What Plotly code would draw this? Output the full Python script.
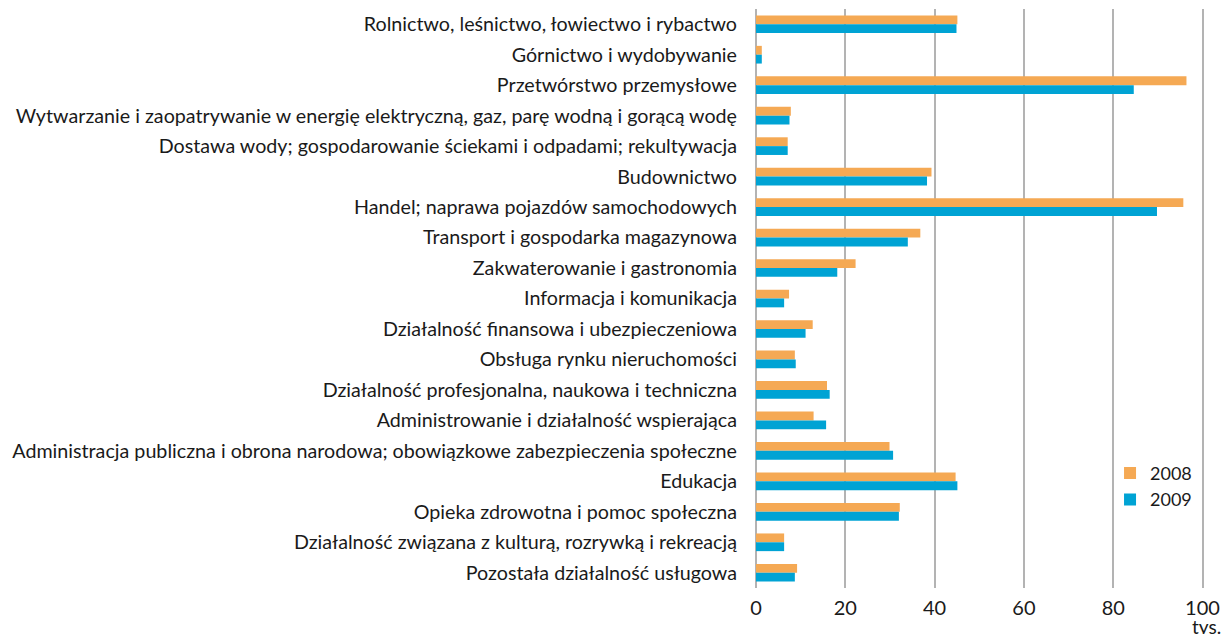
import plotly.graph_objects as go

categories = [
    "Rolnictwo, leśnictwo, łowiectwo i rybactwo",
    "Górnictwo i wydobywanie",
    "Przetwórstwo przemysłowe",
    "Wytwarzanie i zaopatrywanie w energię elektryczną, gaz, parę wodną i gorącą wodę",
    "Dostawa wody; gospodarowanie ściekami i odpadami; rekultywacja",
    "Budownictwo",
    "Handel; naprawa pojazdów samochodowych",
    "Transport i gospodarka magazynowa",
    "Zakwaterowanie i gastronomia",
    "Informacja i komunikacja",
    "Działalność finansowa i ubezpieczeniowa",
    "Obsługa rynku nieruchomości",
    "Działalność profesjonalna, naukowa i techniczna",
    "Administrowanie i działalność wspierająca",
    "Administracja publiczna i obrona narodowa; obowiązkowe zabezpieczenia społeczne",
    "Edukacja",
    "Opieka zdrowotna i pomoc społeczna",
    "Działalność związana z kulturą, rozrywką i rekreacją",
    "Pozostała działalność usługowa",
]

values_2008 = [45.1, 1.3, 96.4, 7.8, 7.1, 39.3, 95.7, 36.8, 22.3, 7.4, 12.7, 8.7,
               15.9, 12.9, 29.9, 44.7, 32.2, 6.3, 9.2]
values_2009 = [44.9, 1.3, 84.6, 7.5, 7.1, 38.3, 89.8, 34.0, 18.2, 6.3, 11.1, 8.9,
               16.5, 15.7, 30.7, 45.1, 32.0, 6.3, 8.7]

series_names = ["2008", "2009"]
x_ticks = [0, 20, 40, 60, 80, 100]

FONT = "Lato"
TXT = "#1a1a1a"
fig = go.Figure()
fig.add_trace(go.Bar(y=categories, x=values_2008, name=series_names[0], orientation="h",
                     marker=dict(color="#F5A954", line=dict(width=0))))
fig.add_trace(go.Bar(y=categories, x=values_2009, name=series_names[1], orientation="h",
                     marker=dict(color="#00A3D4", line=dict(width=0))))

fig.update_layout(
    width=1221, height=634, autosize=False,
    margin=dict(l=756, r=14, t=9, b=46, autoexpand=False),
    barmode="group", bargap=0.42, bargroupgap=0,
    plot_bgcolor="white", paper_bgcolor="white",
    font=dict(family=FONT, size=19.7, color=TXT),
    legend=dict(x=0.785, y=0.23, xanchor="left", yanchor="top",
                font=dict(family=FONT, size=18, color=TXT),
                bgcolor="rgba(0,0,0,0)", tracegroupgap=0, itemwidth=30),
    xaxis=dict(range=[0, 101], tickvals=x_ticks, showgrid=True, gridcolor="#B3B3B3",
               gridwidth=1.5, zeroline=True, zerolinecolor="#B3B3B3", zerolinewidth=1.5,
               showline=False, ticks="", ticklabelstandoff=6, automargin=False,
               tickfont=dict(family=FONT, size=20, color=TXT)),
    yaxis=dict(autorange="reversed", showgrid=False, showline=False, ticks="",
               ticklabelstandoff=18, automargin=False,
               tickfont=dict(family=FONT, size=19.7, color=TXT)),
    showlegend=True,
)
fig.add_annotation(text="tys.", xref="paper", yref="paper", x=0.998, y=-0.067,
                   xanchor="center", yanchor="middle", showarrow=False,
                   font=dict(family=FONT, size=19, color=TXT))

fig.write_html(
    "out.html",
    config={"responsive": False, "displayModeBar": False},
    post_script="document.body.style.margin='0';document.body.style.overflow='hidden';",
)
